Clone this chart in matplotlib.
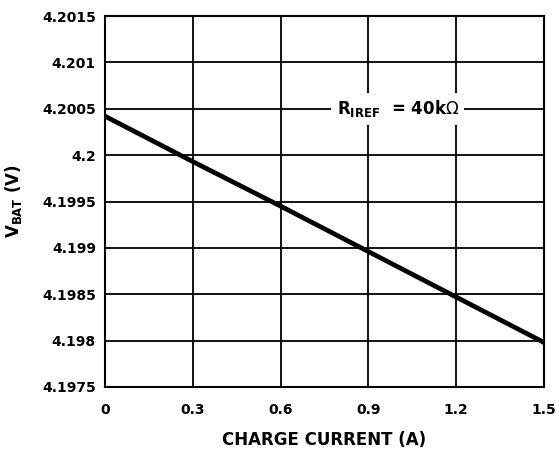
import numpy as np
import matplotlib
matplotlib.use("Agg")
import matplotlib.pyplot as plt

# ::: Data (VBAT vs charge current, RIREF = 40k) :::
charge_current = [0.0, 0.3, 0.6, 0.9, 1.2, 1.5]                       # A
vbat = [4.20042, 4.19993, 4.19945, 4.19896, 4.19847, 4.19798]         # V

x_ticks = [0, 0.3, 0.6, 0.9, 1.2, 1.5]
x_tick_labels = ["0", "0.3", "0.6", "0.9", "1.2", "1.5"]
y_ticks = [4.1975, 4.198, 4.1985, 4.199, 4.1995, 4.2, 4.2005, 4.201, 4.2015]
y_tick_labels = ["4.1975", "4.198", "4.1985", "4.199", "4.1995", "4.2", "4.2005", "4.201", "4.2015"]

plt.rcParams['font.family'] = ['DejaVu Sans']
plt.rcParams['font.weight'] = 'bold'
plt.rcParams['mathtext.fontset'] = 'custom'
plt.rcParams['mathtext.rm'] = 'DejaVu Sans:normal'
plt.rcParams['mathtext.bf'] = 'DejaVu Sans:bold'
plt.rcParams['mathtext.default'] = 'bf'

fig = plt.figure(figsize=(5.56, 4.51), dpi=100)
ax = fig.add_axes([105 / 556, 1 - 387 / 451, (544 - 105) / 556, (387 - 16) / 451])

ax.plot(charge_current, vbat, color='black', linewidth=3.4, solid_capstyle='butt', zorder=3)

ax.set_xlim(0, 1.5)
ax.set_ylim(4.1975, 4.2015)
ax.set_xticks(x_ticks)
ax.set_xticklabels(x_tick_labels)
ax.set_yticks(y_ticks)
ax.set_yticklabels(y_tick_labels)
ax.tick_params(axis='both', length=0, labelsize=10)
ax.tick_params(axis='x', pad=11.5)
ax.tick_params(axis='y', pad=6.5)

ax.grid(True, color='black', linewidth=1.3)
for spine in ax.spines.values():
    spine.set_linewidth(1.5)

ax.set_xlabel("CHARGE CURRENT (A)", fontsize=12, fontweight='bold', labelpad=10)
ax.set_ylabel(r"V$_{BAT}$ (V)", fontsize=12, fontweight='bold', labelpad=13)

# ::: Annotation with white box over the grid :::
ax.text(1.0, 4.2005, r"R$_{IREF}$  = 40k$\mathrm{\Omega}$", fontsize=12, fontweight='bold',
        ha='center', va='center', zorder=4,
        bbox=dict(facecolor='white', edgecolor='none', pad=4))

fig.savefig("out.png", dpi=100)
